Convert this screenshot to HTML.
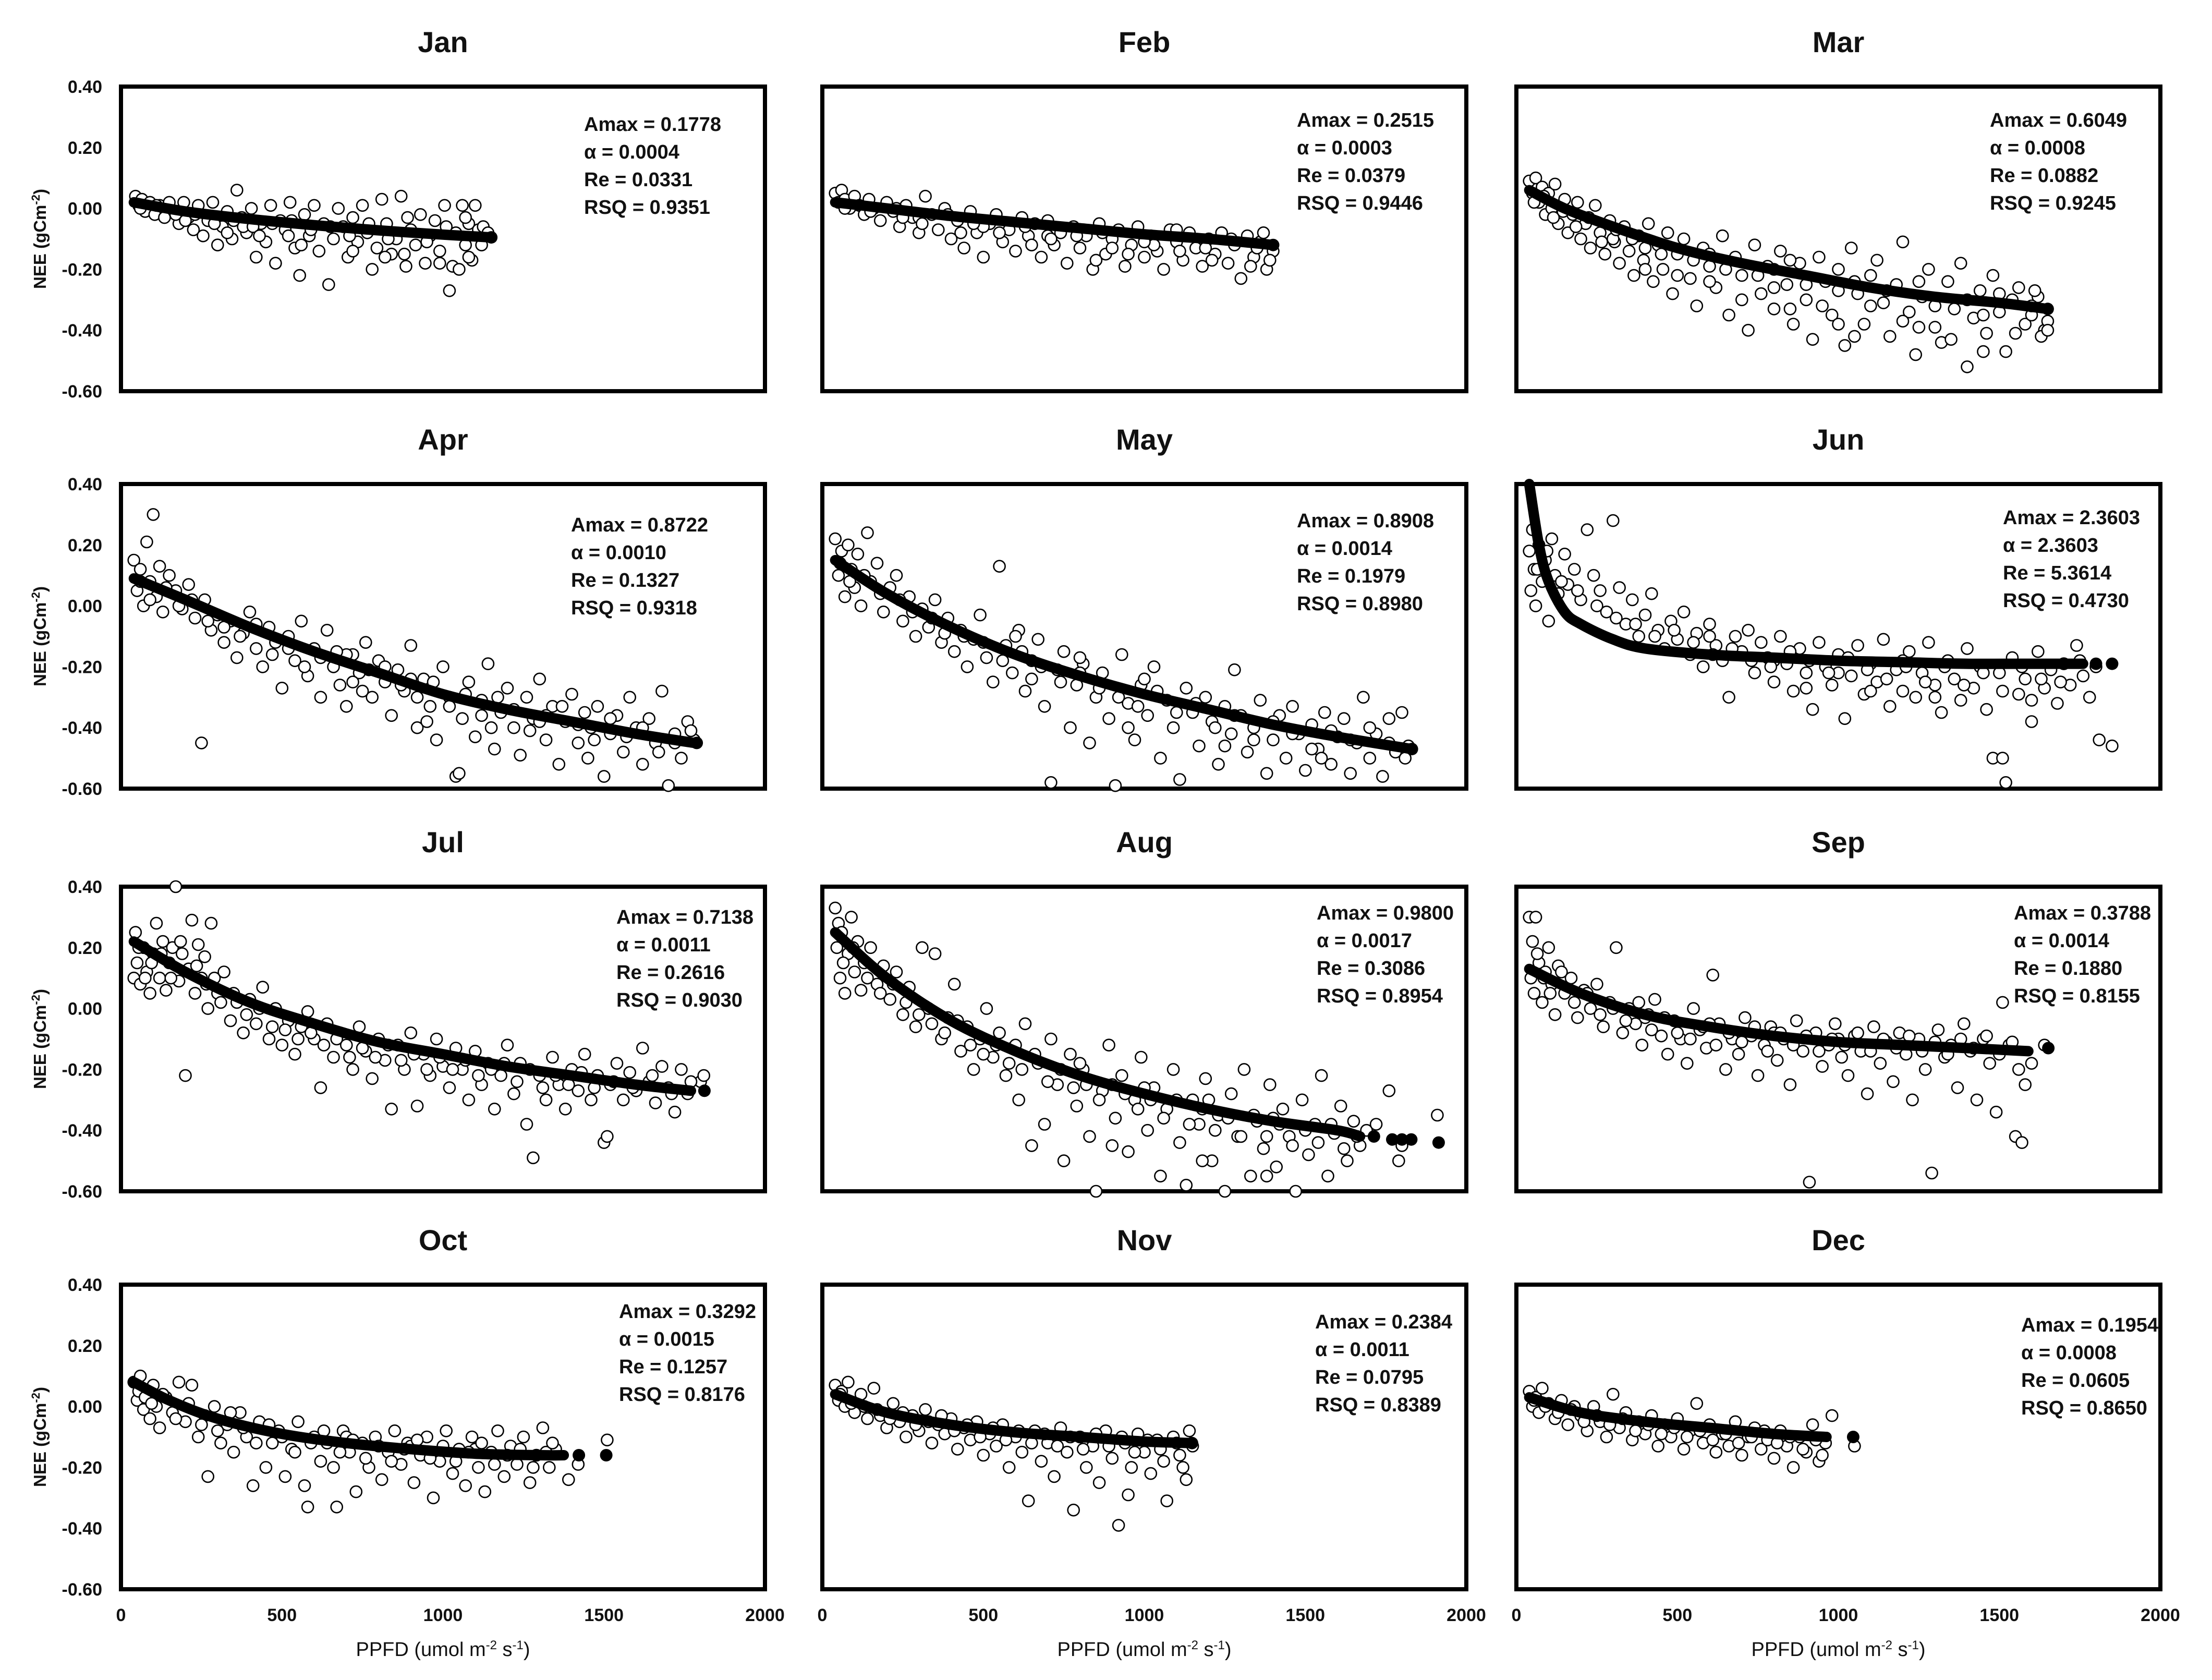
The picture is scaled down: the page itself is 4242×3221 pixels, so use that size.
<!DOCTYPE html>
<html><head><meta charset="utf-8"><title>NEE vs PPFD monthly light response</title>
<style>
html,body{margin:0;padding:0;background:#fff;}
svg{display:block;font-family:"Liberation Sans",Arial,sans-serif;}
</style></head>
<body>
<svg id="chart" xmlns="http://www.w3.org/2000/svg" width="4242" height="3221" viewBox="0 0 4242 3221"></svg>
<script>
const months = ["Jan","Feb","Mar","Apr","May","Jun","Jul","Aug","Sep","Oct","Nov","Dec"];
const amaxVals = ["0.1778","0.2515","0.6049","0.8722","0.8908","2.3603","0.7138","0.9800","0.3788","0.3292","0.2384","0.1954"];
const alphaVals = ["0.0004","0.0003","0.0008","0.0010","0.0014","2.3603","0.0011","0.0017","0.0014","0.0015","0.0011","0.0008"];
const reVals = ["0.0331","0.0379","0.0882","0.1327","0.1979","5.3614","0.2616","0.3086","0.1880","0.1257","0.0795","0.0605"];
const rsqVals = ["0.9351","0.9446","0.9245","0.9318","0.8980","0.4730","0.9030","0.8954","0.8155","0.8176","0.8389","0.8650"];
const yTicks = [0.4,0.2,0,-0.2,-0.4,-0.6];
const yTickLabels = ["0.40","0.20","0.00","-0.20","-0.40","-0.60"];
const xTicks = [0,500,1000,1500,2000];
const xTickLabels = ["0","500","1000","1500","2000"];

// fitted curves (PPFD, NEE)
const fitX = [
 [40,200,400,600,800,1000,1150],
 [40,200,400,600,800,1000,1200,1400],
 [40,150,300,500,700,900,1100,1300,1500,1650],
 [40,200,400,600,800,1000,1200,1400,1600,1780],
 [40,200,400,600,800,1000,1200,1400,1600,1830],
 [40,70,100,150,200,300,400,600,800,1000,1200,1400,1600,1760],
 [40,200,400,600,800,1000,1200,1400,1600,1770],
 [40,200,400,600,800,1000,1200,1400,1600,1670],
 [40,200,400,600,800,1000,1200,1400,1590],
 [40,150,300,500,700,900,1100,1300,1375],
 [40,200,400,600,800,1000,1148],
 [40,200,400,600,800,963]
];
const fitY = [
 [0.02,-0.01,-0.035,-0.055,-0.072,-0.086,-0.095],
 [0.02,0.0,-0.025,-0.045,-0.065,-0.085,-0.10,-0.12],
 [0.06,0.0,-0.06,-0.13,-0.18,-0.22,-0.26,-0.29,-0.31,-0.33],
 [0.09,0.02,-0.07,-0.15,-0.22,-0.29,-0.34,-0.38,-0.42,-0.45],
 [0.15,0.04,-0.07,-0.16,-0.23,-0.29,-0.34,-0.39,-0.43,-0.47],
 [0.40,0.20,0.08,-0.02,-0.06,-0.11,-0.14,-0.16,-0.17,-0.18,-0.185,-0.19,-0.19,-0.19],
 [0.22,0.12,0.02,-0.05,-0.11,-0.15,-0.19,-0.22,-0.25,-0.27],
 [0.25,0.10,-0.04,-0.14,-0.22,-0.28,-0.33,-0.37,-0.40,-0.42],
 [0.13,0.05,-0.02,-0.06,-0.09,-0.11,-0.12,-0.13,-0.14],
 [0.08,0.02,-0.04,-0.09,-0.12,-0.14,-0.155,-0.16,-0.16],
 [0.04,-0.02,-0.06,-0.085,-0.10,-0.115,-0.12],
 [0.03,-0.02,-0.05,-0.07,-0.09,-0.10]
];
// isolated fitted points beyond main curve
const fitExtra = [
 [[1150,-0.095]],[[1400,-0.12]],[[1650,-0.33]],[[1788,-0.45]],[[1831,-0.47]],
 [[1800,-0.19],[1850,-0.19]],[[1812,-0.27]],
 [[1713,-0.42],[1770,-0.43],[1800,-0.43],[1829,-0.43],[1914,-0.44]],
 [[1652,-0.13]],[[1422,-0.16],[1507,-0.16]],[[1148,-0.12]],[[1046,-0.10]]
];

// observed scatter (PPFD, NEE)
const obsJan = [[45,0.04],[55,0.01],[65,0.03],[75,-0.01],[90,0.02],[105,-0.02],[120,0.01],[135,-0.03],[150,0.02],[165,-0.01],[180,-0.05],[195,0.02],[210,-0.03],[225,-0.07],[240,0.01],[255,-0.09],[270,-0.04],[285,0.02],[300,-0.12],[315,-0.06],[330,-0.01],[345,-0.1],[360,0.06],[375,-0.03],[390,-0.08],[405,0.0],[420,-0.16],[435,-0.05],[450,-0.11],[465,0.01],[480,-0.18],[495,-0.04],[510,-0.07],[525,0.02],[540,-0.13],[555,-0.22],[570,-0.02],[585,-0.09],[600,0.01],[615,-0.14],[630,-0.05],[645,-0.25],[660,-0.1],[675,0.0],[690,-0.06],[705,-0.16],[720,-0.03],[735,-0.11],[750,0.01],[765,-0.08],[780,-0.2],[795,-0.13],[810,0.03],[825,-0.05],[840,-0.15],[855,-0.1],[870,0.04],[885,-0.19],[900,-0.07],[915,-0.12],[930,-0.02],[945,-0.18],[960,-0.09],[975,-0.04],[990,-0.14],[1005,0.01],[1020,-0.27],[1030,-0.19],[1040,-0.08],[1050,-0.2],[1060,0.01],[1070,-0.12],[1080,-0.05],[1090,-0.17],[1100,0.01],[1110,-0.07],[1125,-0.06],[1140,-0.08],[880,-0.15],[720,-0.14],[520,-0.09],[380,-0.06]];
const obsJanB = [[60,0.0],[110,0.01],[170,-0.02],[230,-0.02],[290,-0.05],[350,-0.04],[410,-0.06],[470,-0.05],[530,-0.04],[590,-0.07],[650,-0.06],[710,-0.09],[770,-0.05],[830,-0.1],[890,-0.03],[950,-0.11],[1010,-0.06],[1070,-0.03],[1120,-0.12],[1080,-0.16],[990,-0.18],[820,-0.16],[560,-0.12],[430,-0.09],[330,-0.08],[200,-0.04]];
const obsFeb = [[40,0.05],[50,0.02],[60,0.06],[70,0.03],[85,0.0],[100,0.04],[115,0.01],[130,-0.02],[145,0.03],[160,0.0],[180,-0.04],[200,0.02],[220,-0.01],[240,-0.06],[260,0.01],[280,-0.03],[300,-0.08],[320,0.04],[340,-0.02],[360,-0.07],[380,0.0],[400,-0.1],[420,-0.04],[440,-0.13],[460,-0.01],[480,-0.08],[500,-0.16],[520,-0.05],[540,-0.02],[560,-0.11],[580,-0.07],[600,-0.14],[620,-0.03],[640,-0.09],[660,-0.05],[680,-0.16],[700,-0.04],[720,-0.12],[740,-0.08],[760,-0.18],[780,-0.06],[800,-0.13],[820,-0.09],[840,-0.2],[860,-0.05],[880,-0.15],[900,-0.1],[920,-0.07],[940,-0.19],[960,-0.12],[980,-0.06],[1000,-0.16],[1020,-0.09],[1040,-0.14],[1060,-0.2],[1080,-0.07],[1100,-0.11],[1120,-0.17],[1140,-0.08],[1160,-0.13],[1180,-0.19],[1200,-0.1],[1220,-0.15],[1240,-0.08],[1260,-0.18],[1280,-0.12],[1300,-0.23],[1320,-0.09],[1340,-0.16],[1360,-0.11],[1380,-0.2],[1400,-0.14],[1390,-0.17],[1370,-0.08],[300,-0.03],[500,-0.06],[700,-0.09],[900,-0.13],[1100,-0.07]];
const obsFebB = [[70,0.0],[150,-0.01],[230,0.0],[310,-0.05],[390,-0.02],[470,-0.05],[550,-0.08],[630,-0.06],[710,-0.1],[790,-0.09],[870,-0.08],[950,-0.15],[1030,-0.12],[1110,-0.14],[1190,-0.13],[1270,-0.1],[1350,-0.13],[1330,-0.19],[1210,-0.17],[1000,-0.11],[850,-0.17],[650,-0.12],[430,-0.08],[250,-0.03]];
const obsMar = [[40,0.09],[50,0.05],[60,0.1],[70,0.02],[80,0.07],[90,-0.02],[100,0.05],[110,0.0],[120,0.08],[130,-0.05],[150,0.03],[160,-0.08],[175,-0.02],[190,0.02],[200,-0.1],[215,-0.05],[230,-0.13],[245,0.01],[260,-0.08],[275,-0.15],[290,-0.04],[305,-0.11],[320,-0.18],[335,-0.06],[350,-0.14],[365,-0.22],[380,-0.09],[395,-0.17],[410,-0.05],[425,-0.24],[440,-0.12],[455,-0.2],[470,-0.08],[485,-0.28],[500,-0.15],[520,-0.1],[540,-0.23],[560,-0.32],[580,-0.13],[600,-0.19],[620,-0.26],[640,-0.09],[660,-0.35],[680,-0.16],[700,-0.22],[720,-0.4],[740,-0.12],[760,-0.28],[780,-0.19],[800,-0.33],[820,-0.14],[840,-0.25],[860,-0.38],[880,-0.18],[900,-0.3],[920,-0.43],[940,-0.16],[960,-0.24],[980,-0.35],[1000,-0.2],[1020,-0.45],[1040,-0.13],[1060,-0.28],[1080,-0.38],[1100,-0.22],[1120,-0.17],[1140,-0.31],[1160,-0.42],[1180,-0.25],[1200,-0.11],[1220,-0.34],[1240,-0.48],[1260,-0.29],[1280,-0.2],[1300,-0.39],[1320,-0.44],[1340,-0.24],[1360,-0.33],[1380,-0.18],[1400,-0.52],[1420,-0.36],[1440,-0.27],[1460,-0.41],[1480,-0.22],[1500,-0.34],[1520,-0.47],[1540,-0.3],[1560,-0.26],[1580,-0.38],[1600,-0.35],[1620,-0.29],[1640,-0.4],[1650,-0.37],[1630,-0.42],[300,-0.1],[400,-0.13],[600,-0.15],[800,-0.2],[1000,-0.27]];
const obsMarB = [[55,0.02],[85,0.04],[115,-0.03],[145,-0.01],[185,-0.06],[225,-0.03],[265,-0.11],[310,-0.07],[360,-0.1],[400,-0.2],[450,-0.15],[500,-0.22],[550,-0.17],[600,-0.24],[650,-0.2],[700,-0.3],[750,-0.22],[800,-0.26],[850,-0.17],[900,-0.25],[950,-0.32],[1000,-0.38],[1050,-0.24],[1100,-0.32],[1150,-0.27],[1200,-0.37],[1250,-0.24],[1300,-0.32],[1350,-0.43],[1400,-0.3],[1450,-0.35],[1500,-0.28],[1550,-0.41],[1600,-0.32],[1650,-0.4],[1610,-0.27],[1450,-0.47],[1250,-0.39],[1050,-0.42],[850,-0.33]];
const obsApr = [[40,0.15],[50,0.05],[60,0.12],[70,0.0],[80,0.21],[90,0.08],[100,0.3],[110,0.03],[120,0.13],[130,-0.02],[150,0.1],[170,0.05],[190,-0.01],[210,0.07],[230,-0.04],[250,-0.45],[260,0.02],[280,-0.08],[300,-0.03],[320,-0.12],[340,-0.05],[360,-0.17],[380,-0.09],[400,-0.02],[420,-0.14],[440,-0.2],[460,-0.07],[480,-0.12],[500,-0.27],[520,-0.1],[540,-0.18],[560,-0.05],[580,-0.23],[600,-0.14],[620,-0.3],[640,-0.08],[660,-0.2],[680,-0.26],[700,-0.33],[720,-0.16],[740,-0.22],[760,-0.12],[780,-0.3],[800,-0.18],[820,-0.25],[840,-0.36],[860,-0.21],[880,-0.28],[900,-0.13],[920,-0.4],[940,-0.24],[960,-0.33],[980,-0.44],[1000,-0.2],[1020,-0.3],[1040,-0.56],[1060,-0.37],[1080,-0.25],[1100,-0.43],[1120,-0.31],[1140,-0.19],[1160,-0.47],[1180,-0.35],[1200,-0.27],[1220,-0.4],[1240,-0.49],[1260,-0.3],[1280,-0.37],[1300,-0.24],[1320,-0.44],[1340,-0.33],[1360,-0.52],[1380,-0.38],[1400,-0.29],[1420,-0.45],[1440,-0.35],[1460,-0.4],[1480,-0.33],[1500,-0.56],[1520,-0.42],[1540,-0.36],[1560,-0.48],[1580,-0.3],[1600,-0.4],[1620,-0.52],[1640,-0.37],[1660,-0.45],[1680,-0.28],[1700,-0.59],[1720,-0.42],[1740,-0.5],[1760,-0.38],[1780,-0.44],[1050,-0.55],[700,-0.16],[900,-0.24],[1300,-0.38]];
const obsAprB = [[60,0.08],[90,0.02],[140,0.06],[180,0.0],[220,0.02],[270,-0.05],[320,-0.07],[370,-0.1],[420,-0.06],[470,-0.16],[520,-0.14],[570,-0.2],[620,-0.17],[670,-0.15],[720,-0.25],[770,-0.21],[820,-0.2],[870,-0.26],[920,-0.3],[970,-0.25],[1020,-0.33],[1070,-0.29],[1120,-0.36],[1170,-0.3],[1220,-0.34],[1270,-0.41],[1320,-0.36],[1370,-0.33],[1420,-0.39],[1470,-0.44],[1520,-0.37],[1570,-0.43],[1620,-0.4],[1670,-0.48],[1720,-0.45],[1770,-0.41],[1150,-0.4],[950,-0.38],[750,-0.28],[1450,-0.5]];
const obsMay = [[40,0.22],[50,0.1],[60,0.18],[70,0.03],[80,0.2],[90,0.12],[100,0.06],[110,0.17],[120,0.0],[140,0.24],[150,0.08],[170,0.14],[190,-0.02],[210,0.06],[230,0.1],[250,-0.05],[270,0.03],[290,-0.1],[310,-0.01],[330,-0.07],[350,0.02],[370,-0.12],[390,-0.04],[410,-0.15],[430,-0.08],[450,-0.2],[470,-0.11],[490,-0.03],[510,-0.17],[530,-0.25],[550,0.13],[570,-0.13],[590,-0.22],[610,-0.08],[630,-0.28],[650,-0.18],[670,-0.11],[690,-0.33],[710,-0.58],[730,-0.21],[750,-0.15],[770,-0.4],[790,-0.26],[810,-0.19],[830,-0.45],[850,-0.3],[870,-0.22],[890,-0.37],[910,-0.59],[930,-0.16],[950,-0.32],[970,-0.44],[990,-0.26],[1010,-0.36],[1030,-0.2],[1050,-0.5],[1070,-0.31],[1090,-0.4],[1110,-0.57],[1130,-0.27],[1150,-0.35],[1170,-0.46],[1190,-0.3],[1210,-0.38],[1230,-0.52],[1250,-0.33],[1270,-0.42],[1280,-0.21],[1300,-0.36],[1320,-0.48],[1340,-0.4],[1360,-0.31],[1380,-0.55],[1400,-0.44],[1420,-0.36],[1440,-0.5],[1460,-0.33],[1480,-0.42],[1500,-0.54],[1520,-0.39],[1540,-0.47],[1560,-0.35],[1580,-0.52],[1600,-0.43],[1620,-0.37],[1640,-0.55],[1660,-0.45],[1680,-0.3],[1700,-0.5],[1720,-0.42],[1740,-0.56],[1760,-0.37],[1780,-0.48],[1800,-0.35],[1820,-0.46],[600,-0.1],[800,-0.17],[1000,-0.24]];
const obsMayB = [[55,0.14],[85,0.08],[130,0.1],[180,0.04],[240,0.02],[280,-0.02],[340,-0.04],[380,-0.09],[440,-0.1],[500,-0.12],[560,-0.18],[620,-0.15],[680,-0.2],[740,-0.25],[800,-0.22],[860,-0.27],[920,-0.3],[980,-0.33],[1040,-0.28],[1100,-0.35],[1160,-0.32],[1220,-0.4],[1280,-0.36],[1340,-0.44],[1400,-0.38],[1460,-0.42],[1520,-0.47],[1580,-0.41],[1640,-0.44],[1700,-0.4],[1760,-0.45],[1810,-0.5],[1550,-0.5],[1250,-0.46],[950,-0.4],[650,-0.24]];
const obsJun = [[40,0.18],[45,0.05],[50,0.25],[55,0.12],[60,0.0],[70,0.2],[80,0.08],[90,0.15],[100,-0.05],[110,0.22],[120,0.1],[130,0.04],[150,0.17],[160,0.07],[180,0.12],[200,0.02],[220,0.25],[240,0.1],[260,0.05],[280,-0.02],[300,0.28],[320,0.06],[340,-0.06],[360,0.02],[380,-0.1],[400,-0.03],[420,0.04],[440,-0.08],[460,-0.14],[480,-0.05],[500,-0.11],[520,-0.02],[540,-0.16],[560,-0.09],[580,-0.2],[600,-0.06],[620,-0.13],[640,-0.18],[660,-0.3],[680,-0.1],[700,-0.15],[720,-0.08],[740,-0.22],[760,-0.12],[780,-0.17],[800,-0.25],[820,-0.1],[840,-0.19],[860,-0.28],[880,-0.14],[900,-0.22],[920,-0.34],[940,-0.12],[960,-0.2],[980,-0.26],[1000,-0.16],[1020,-0.37],[1040,-0.23],[1060,-0.13],[1080,-0.29],[1100,-0.19],[1120,-0.25],[1140,-0.11],[1160,-0.33],[1180,-0.21],[1200,-0.28],[1220,-0.15],[1240,-0.3],[1260,-0.22],[1280,-0.12],[1300,-0.26],[1320,-0.35],[1340,-0.18],[1360,-0.24],[1380,-0.31],[1400,-0.14],[1420,-0.27],[1440,-0.2],[1460,-0.34],[1480,-0.5],[1500,-0.22],[1510,-0.5],[1520,-0.58],[1540,-0.17],[1560,-0.29],[1580,-0.24],[1600,-0.38],[1620,-0.15],[1640,-0.27],[1660,-0.21],[1680,-0.32],[1700,-0.19],[1720,-0.26],[1740,-0.13],[1760,-0.23],[1780,-0.3],[1800,-0.2],[1810,-0.44],[1850,-0.46],[1200,-0.18],[1000,-0.22],[800,-0.18],[600,-0.1]];
const obsJunB = [[65,0.12],[95,0.18],[140,0.08],[190,0.05],[250,0.0],[310,-0.04],[370,-0.06],[430,-0.1],[490,-0.08],[550,-0.12],[610,-0.16],[670,-0.14],[730,-0.18],[790,-0.2],[850,-0.15],[910,-0.18],[970,-0.22],[1030,-0.17],[1090,-0.21],[1150,-0.24],[1210,-0.2],[1270,-0.25],[1330,-0.2],[1390,-0.26],[1450,-0.22],[1510,-0.28],[1570,-0.2],[1630,-0.24],[1690,-0.25],[1750,-0.18],[1300,-0.3],[1100,-0.28],[900,-0.27],[1600,-0.31]];
const obsJul = [[40,0.1],[45,0.25],[50,0.15],[60,0.08],[70,0.2],[80,0.12],[90,0.05],[100,0.18],[110,0.28],[120,0.1],[130,0.22],[140,0.06],[150,0.15],[160,0.2],[170,0.4],[180,0.09],[190,0.18],[200,-0.22],[210,0.13],[220,0.29],[230,0.05],[240,0.21],[250,0.1],[260,0.17],[270,0.0],[280,0.28],[290,0.1],[300,0.05],[320,0.12],[340,-0.04],[360,0.02],[380,-0.08],[400,0.03],[420,-0.05],[440,0.07],[460,-0.1],[480,0.0],[500,-0.12],[520,-0.04],[540,-0.15],[560,-0.06],[580,-0.01],[600,-0.1],[620,-0.26],[640,-0.05],[660,-0.16],[680,-0.08],[700,-0.12],[720,-0.2],[740,-0.06],[760,-0.14],[780,-0.23],[800,-0.1],[820,-0.17],[840,-0.33],[860,-0.12],[880,-0.2],[900,-0.08],[920,-0.32],[940,-0.15],[960,-0.22],[980,-0.1],[1000,-0.19],[1020,-0.26],[1040,-0.13],[1060,-0.2],[1080,-0.3],[1100,-0.14],[1120,-0.25],[1140,-0.18],[1160,-0.33],[1180,-0.22],[1200,-0.12],[1220,-0.28],[1240,-0.18],[1260,-0.38],[1280,-0.49],[1300,-0.22],[1320,-0.3],[1340,-0.16],[1360,-0.25],[1380,-0.33],[1400,-0.2],[1420,-0.27],[1440,-0.15],[1460,-0.3],[1480,-0.22],[1500,-0.44],[1510,-0.42],[1520,-0.25],[1540,-0.18],[1560,-0.3],[1580,-0.21],[1600,-0.27],[1620,-0.13],[1640,-0.24],[1660,-0.31],[1680,-0.19],[1700,-0.26],[1720,-0.34],[1740,-0.2],[1760,-0.28],[1800,-0.24],[1810,-0.22]];
const obsJulB = [[55,0.2],[75,0.1],[95,0.15],[125,0.18],[155,0.1],[185,0.22],[235,0.14],[265,0.08],[310,0.02],[350,0.05],[390,-0.02],[430,0.0],[470,-0.06],[510,-0.07],[550,-0.1],[590,-0.08],[630,-0.12],[670,-0.1],[710,-0.16],[750,-0.13],[790,-0.16],[830,-0.12],[870,-0.17],[910,-0.15],[950,-0.2],[990,-0.16],[1030,-0.2],[1070,-0.17],[1110,-0.22],[1150,-0.2],[1190,-0.18],[1230,-0.24],[1270,-0.2],[1310,-0.26],[1350,-0.22],[1390,-0.25],[1430,-0.21],[1470,-0.26],[1530,-0.24],[1590,-0.26],[1650,-0.22],[1710,-0.28],[1770,-0.24]];
const obsAug = [[40,0.33],[45,0.2],[50,0.28],[55,0.1],[60,0.25],[70,0.05],[80,0.18],[90,0.3],[100,0.12],[110,0.22],[120,0.06],[130,0.15],[150,0.2],[170,0.08],[190,0.14],[210,0.03],[230,0.12],[250,-0.02],[270,0.07],[290,-0.06],[310,0.2],[330,0.0],[350,0.18],[370,-0.1],[390,-0.03],[410,0.08],[430,-0.14],[450,-0.06],[470,-0.2],[490,-0.1],[510,0.0],[530,-0.16],[550,-0.08],[570,-0.22],[590,-0.13],[610,-0.3],[630,-0.05],[650,-0.45],[670,-0.18],[690,-0.38],[710,-0.1],[730,-0.25],[750,-0.5],[770,-0.15],[790,-0.32],[810,-0.2],[830,-0.42],[850,-0.6],[870,-0.27],[890,-0.12],[910,-0.36],[930,-0.22],[950,-0.47],[970,-0.3],[990,-0.16],[1010,-0.4],[1030,-0.26],[1050,-0.55],[1070,-0.33],[1090,-0.2],[1110,-0.44],[1130,-0.58],[1150,-0.3],[1170,-0.38],[1190,-0.23],[1210,-0.5],[1230,-0.35],[1250,-0.6],[1270,-0.28],[1290,-0.42],[1310,-0.2],[1330,-0.55],[1350,-0.37],[1370,-0.46],[1390,-0.25],[1410,-0.52],[1430,-0.33],[1450,-0.42],[1470,-0.6],[1490,-0.3],[1510,-0.48],[1530,-0.38],[1550,-0.22],[1570,-0.55],[1590,-0.41],[1610,-0.32],[1630,-0.5],[1650,-0.37],[1670,-0.45],[1690,-0.4],[1720,-0.38],[1760,-0.27],[1790,-0.5],[1800,-0.45],[1910,-0.35],[600,-0.12],[800,-0.18],[1000,-0.26],[1200,-0.3],[1400,-0.36]];
const obsAugB = [[65,0.15],[95,0.2],[140,0.1],[180,0.05],[220,0.08],[260,0.02],[300,-0.02],[340,-0.05],[380,-0.08],[420,-0.04],[460,-0.12],[500,-0.15],[540,-0.12],[580,-0.18],[620,-0.2],[660,-0.15],[700,-0.24],[740,-0.2],[780,-0.26],[820,-0.25],[860,-0.3],[900,-0.25],[940,-0.28],[980,-0.33],[1020,-0.3],[1060,-0.36],[1100,-0.3],[1140,-0.38],[1180,-0.33],[1220,-0.4],[1260,-0.36],[1300,-0.42],[1340,-0.35],[1380,-0.42],[1420,-0.38],[1460,-0.45],[1500,-0.4],[1540,-0.44],[1580,-0.38],[1620,-0.46],[1660,-0.42],[1180,-0.5],[900,-0.45],[1380,-0.55]];
const obsSep = [[40,0.3],[45,0.1],[50,0.22],[55,0.05],[60,0.3],[70,0.15],[80,0.02],[90,0.12],[100,0.2],[110,0.08],[120,-0.02],[130,0.14],[150,0.05],[170,0.1],[190,-0.03],[210,0.06],[230,0.0],[250,0.08],[270,-0.06],[290,0.02],[310,0.2],[330,-0.08],[350,0.0],[370,-0.05],[390,-0.12],[410,-0.02],[430,0.03],[450,-0.09],[470,-0.15],[490,-0.04],[510,-0.1],[530,-0.18],[550,0.0],[570,-0.07],[590,-0.13],[610,0.11],[630,-0.05],[650,-0.2],[670,-0.1],[690,-0.15],[710,-0.03],[730,-0.09],[750,-0.22],[770,-0.12],[790,-0.06],[810,-0.17],[830,-0.1],[850,-0.25],[870,-0.04],[890,-0.14],[910,-0.57],[930,-0.08],[950,-0.19],[970,-0.12],[990,-0.05],[1010,-0.16],[1030,-0.22],[1050,-0.09],[1070,-0.14],[1090,-0.28],[1110,-0.06],[1130,-0.18],[1150,-0.11],[1170,-0.24],[1190,-0.08],[1210,-0.15],[1230,-0.3],[1250,-0.1],[1270,-0.2],[1290,-0.54],[1310,-0.07],[1330,-0.16],[1350,-0.12],[1370,-0.26],[1390,-0.05],[1410,-0.14],[1430,-0.3],[1450,-0.1],[1470,-0.18],[1490,-0.34],[1510,0.02],[1530,-0.12],[1550,-0.42],[1560,-0.2],[1570,-0.44],[1580,-0.25],[1600,-0.18],[1640,-0.12],[1000,-0.1],[800,-0.08],[600,-0.05],[400,-0.03]];
const obsSepB = [[65,0.18],[85,0.1],[105,0.05],[140,0.12],[180,0.02],[220,0.05],[260,-0.02],[300,0.0],[340,-0.04],[380,0.02],[420,-0.07],[460,-0.03],[500,-0.08],[540,-0.1],[580,-0.06],[620,-0.12],[660,-0.08],[700,-0.11],[740,-0.06],[780,-0.14],[820,-0.08],[860,-0.12],[900,-0.09],[940,-0.14],[980,-0.1],[1020,-0.12],[1060,-0.08],[1100,-0.14],[1140,-0.1],[1180,-0.13],[1220,-0.09],[1260,-0.14],[1300,-0.11],[1340,-0.15],[1380,-0.1],[1420,-0.13],[1460,-0.09],[1500,-0.15],[1540,-0.11]];
const obsOct = [[40,0.08],[50,0.02],[60,0.1],[70,-0.01],[80,0.05],[90,-0.04],[100,0.07],[110,0.0],[120,-0.07],[140,0.03],[160,-0.02],[180,0.08],[200,-0.05],[220,0.07],[240,-0.1],[260,-0.03],[270,-0.23],[290,0.0],[310,-0.12],[330,-0.06],[350,-0.15],[370,-0.02],[390,-0.1],[410,-0.26],[430,-0.05],[450,-0.2],[470,-0.12],[490,-0.08],[510,-0.23],[530,-0.14],[550,-0.05],[570,-0.26],[580,-0.33],[600,-0.1],[620,-0.18],[640,-0.12],[660,-0.2],[670,-0.33],[690,-0.08],[710,-0.15],[730,-0.28],[750,-0.12],[770,-0.2],[790,-0.1],[810,-0.24],[830,-0.15],[850,-0.08],[870,-0.19],[890,-0.12],[910,-0.25],[930,-0.16],[950,-0.1],[970,-0.3],[990,-0.18],[1010,-0.08],[1030,-0.22],[1050,-0.14],[1070,-0.26],[1090,-0.1],[1110,-0.2],[1130,-0.28],[1150,-0.15],[1170,-0.08],[1190,-0.23],[1210,-0.13],[1230,-0.19],[1250,-0.1],[1270,-0.25],[1290,-0.16],[1310,-0.07],[1330,-0.2],[1350,-0.14],[1390,-0.24],[1420,-0.19],[1510,-0.11],[700,-0.1],[900,-0.13],[1100,-0.14]];
const obsOctB = [[55,0.05],[75,0.03],[95,0.01],[130,0.04],[170,-0.04],[210,0.01],[250,-0.06],[300,-0.08],[340,-0.02],[380,-0.07],[420,-0.12],[460,-0.06],[500,-0.1],[540,-0.15],[590,-0.12],[630,-0.08],[680,-0.15],[720,-0.11],[760,-0.17],[800,-0.13],[840,-0.18],[880,-0.14],[920,-0.11],[960,-0.17],[1000,-0.13],[1040,-0.18],[1080,-0.15],[1120,-0.12],[1160,-0.19],[1200,-0.16],[1240,-0.14],[1280,-0.2],[1320,-0.15],[1340,-0.12]];
const obsNov = [[40,0.07],[50,0.02],[60,0.05],[70,0.0],[80,0.08],[100,-0.02],[120,0.04],[140,-0.04],[160,0.06],[180,-0.03],[200,-0.07],[220,0.01],[240,-0.05],[260,-0.1],[280,-0.03],[300,-0.08],[320,-0.01],[340,-0.12],[360,-0.06],[380,-0.09],[400,-0.04],[420,-0.14],[440,-0.07],[460,-0.11],[480,-0.05],[500,-0.16],[520,-0.09],[540,-0.13],[560,-0.06],[580,-0.2],[600,-0.1],[620,-0.15],[640,-0.31],[660,-0.08],[680,-0.18],[700,-0.12],[720,-0.23],[740,-0.07],[760,-0.15],[780,-0.34],[800,-0.1],[820,-0.2],[840,-0.13],[860,-0.25],[880,-0.08],[900,-0.17],[920,-0.39],[940,-0.12],[950,-0.29],[960,-0.2],[980,-0.09],[1000,-0.15],[1020,-0.22],[1040,-0.11],[1060,-0.18],[1070,-0.31],[1090,-0.1],[1110,-0.16],[1130,-0.24],[1140,-0.08],[1150,-0.13]];
const obsNovB = [[55,0.04],[90,0.01],[130,0.0],[170,-0.01],[210,-0.04],[250,-0.02],[290,-0.06],[330,-0.05],[370,-0.03],[410,-0.08],[450,-0.06],[490,-0.1],[530,-0.07],[570,-0.11],[610,-0.08],[650,-0.12],[690,-0.09],[730,-0.13],[770,-0.1],[810,-0.14],[850,-0.09],[890,-0.13],[930,-0.1],[970,-0.15],[1010,-0.11],[1050,-0.14],[1100,-0.12],[1120,-0.2]];
const obsDec = [[40,0.05],[50,0.0],[60,0.03],[70,-0.02],[80,0.06],[100,0.01],[120,-0.04],[140,0.02],[160,-0.06],[180,0.0],[200,-0.03],[220,-0.08],[240,0.0],[260,-0.05],[280,-0.1],[300,0.04],[320,-0.07],[340,-0.02],[360,-0.11],[380,-0.05],[400,-0.09],[420,-0.03],[440,-0.13],[460,-0.06],[480,-0.1],[500,-0.04],[520,-0.14],[540,-0.08],[560,0.01],[580,-0.12],[600,-0.06],[620,-0.15],[640,-0.09],[660,-0.13],[680,-0.05],[700,-0.16],[720,-0.1],[740,-0.07],[760,-0.14],[780,-0.11],[800,-0.17],[820,-0.08],[840,-0.13],[860,-0.2],[880,-0.1],[900,-0.15],[920,-0.06],[940,-0.18],[960,-0.12],[980,-0.03],[1050,-0.13]];
const obsDecB = [[55,0.02],[90,0.0],[130,-0.02],[170,-0.01],[210,-0.05],[250,-0.03],[290,-0.06],[330,-0.04],[370,-0.08],[410,-0.06],[450,-0.09],[490,-0.07],[530,-0.1],[570,-0.08],[610,-0.11],[650,-0.09],[690,-0.12],[730,-0.1],[770,-0.08],[810,-0.12],[850,-0.1],[890,-0.14],[930,-0.11],[950,-0.16]];
const observed = [obsJan.concat(obsJanB),obsFeb.concat(obsFebB),obsMar.concat(obsMarB),obsApr.concat(obsAprB),obsMay.concat(obsMayB),obsJun.concat(obsJunB),obsJul.concat(obsJulB),obsAug.concat(obsAugB),obsSep.concat(obsSepB),obsOct.concat(obsOctB),obsNov.concat(obsNovB),obsDec.concat(obsDecB)];

// layout (not data)
const colLeft = [232,1577,2908];
const rowTop = [166,928,1700,2463];
const PW = 1235, PH = 584;
const annoPos = [[888,71],[910,63],[908,63],[863,77],[910,69],[933,63],[950,57],[948,49],[954,49],[955,50],[945,70],[968,76]];

const NS = "http://www.w3.org/2000/svg";
const svg = document.getElementById("chart");
function mk(tag, attrs, parent){
  const e = document.createElementNS(NS, tag);
  for (const k in attrs) e.setAttribute(k, attrs[k]);
  (parent||svg).appendChild(e);
  return e;
}
function xScale(L, v){ return L + v/2000*PW; }
function yScale(T, v){ return T + (0.4 - v)/1.0*PH; }
function smoothPath(pts){
  let d = "M" + pts[0][0].toFixed(1) + "," + pts[0][1].toFixed(1);
  for (let i=0;i<pts.length-1;i++){
    const p0 = pts[Math.max(0,i-1)], p1 = pts[i], p2 = pts[i+1], p3 = pts[Math.min(pts.length-1,i+2)];
    const c1x = p1[0] + (p2[0]-p0[0])/6, c1y = p1[1] + (p2[1]-p0[1])/6;
    const c2x = p2[0] - (p3[0]-p1[0])/6, c2y = p2[1] - (p3[1]-p1[1])/6;
    d += " C" + c1x.toFixed(1)+","+c1y.toFixed(1)+" "+c2x.toFixed(1)+","+c2y.toFixed(1)+" "+p2[0].toFixed(1)+","+p2[1].toFixed(1);
  }
  return d;
}

months.forEach((m, i) => {
  const col = i % 3, row = Math.floor(i / 3);
  const L = colLeft[col], T = rowTop[row];
  const g = mk("g", {});
  
  

  const title = mk("text", {x: L + PW/2, y: T - 66, "text-anchor":"middle", "font-size":"56", "font-weight":"bold", fill:"#111"}, g);
  title.textContent = m;
  
  

  const box = mk("rect", {x: L, y: T, width: PW, height: PH, fill:"#fff", stroke:"#000", "stroke-width":"8"}, g);
  
  

  const pts = mk("g", {}, g);
  
  
  observed[i].forEach(p => {
    const c = mk("circle", {cx: xScale(L,p[0]).toFixed(1), cy: yScale(T,p[1]).toFixed(1), r: "11", fill:"#fff", stroke:"#000", "stroke-width":"2.6"}, pts);
    
    
  });

  const curvePts = fitX[i].map((x, k) => [xScale(L, x), yScale(T, fitY[i][k])]);
  const curve = mk("path", {d: smoothPath(curvePts), fill:"none", stroke:"#000", "stroke-width":"20", "stroke-linecap":"round", "stroke-linejoin":"round"}, g);
  
  
  fitExtra[i].forEach(p => {
    const d = mk("circle", {cx: xScale(L,p[0]).toFixed(1), cy: yScale(T,p[1]).toFixed(1), r:"12", fill:"#000"}, g);
    
    
  });

  const ax = L + annoPos[i][0], ay = T + annoPos[i][1];
  const lines = ["Amax = " + amaxVals[i], "\u03b1 = " + alphaVals[i], "Re = " + reVals[i], "RSQ = " + rsqVals[i]];
  const ann = mk("g", {}, g);
  
  
  lines.forEach((s, k) => {
    const t = mk("text", {x: ax, y: ay + 14 + k*53, "font-size":"38", "font-weight":"bold", fill:"#111"}, ann);
    t.textContent = s;
    
    
  });

  if (col === 0) {
    yTicks.forEach((v, k) => {
      const t = mk("text", {x: 196, y: yScale(T, v) + 12, "text-anchor":"end", "font-size":"34", "font-weight":"bold", fill:"#111"}, g);
      t.textContent = yTickLabels[k];
      
      
    });
    const yt = mk("text", {x: 0, y: 0, transform: "translate(88," + (T + PH/2) + ") rotate(-90)", "text-anchor":"middle", "font-size":"33", "font-weight":"bold", fill:"#111"}, g);
    
    
    yt.appendChild(document.createTextNode("NEE (gCm"));
    const sup = mk("tspan", {"baseline-shift":"super", "font-size":"22"}, yt);
    sup.textContent = "-2";
    yt.appendChild(document.createTextNode(")"));
  }
  if (row === 3) {
    xTicks.forEach((v, k) => {
      const t = mk("text", {x: xScale(L, v), y: 3108, "text-anchor":"middle", "font-size":"34", "font-weight":"bold", fill:"#111"}, g);
      t.textContent = xTickLabels[k];
      
      
    });
    const xt = mk("text", {x: L + PW/2, y: 3175, "text-anchor":"middle", "font-size":"38", fill:"#111"}, g);
    
    
    xt.appendChild(document.createTextNode("PPFD (umol m"));
    const s1 = mk("tspan", {"baseline-shift":"super", "font-size":"24"}, xt);
    s1.textContent = "-2";
    xt.appendChild(document.createTextNode(" s"));
    const s2 = mk("tspan", {"baseline-shift":"super", "font-size":"24"}, xt);
    s2.textContent = "-1";
    xt.appendChild(document.createTextNode(")"));
  }
});
</script>
</body></html>
